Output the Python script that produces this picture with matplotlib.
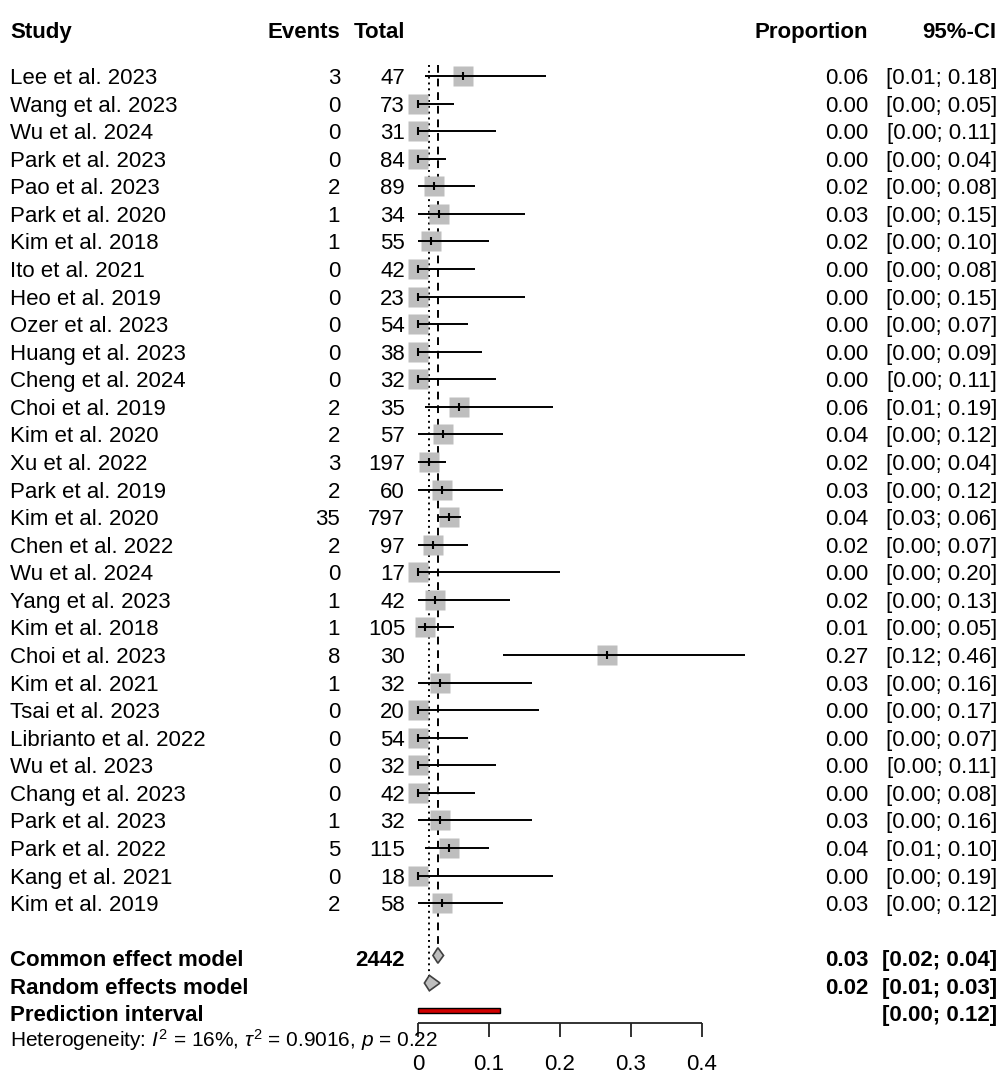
import matplotlib
matplotlib.use("Agg")
import matplotlib.pyplot as plt
from matplotlib.patches import Polygon, Rectangle

plt.rcParams['font.family'] = 'Liberation Sans'
plt.rcParams['mathtext.fontset'] = 'custom'
plt.rcParams['mathtext.rm'] = 'Liberation Sans'
plt.rcParams['mathtext.it'] = 'Liberation Sans:italic'

# data
studies = ["Lee et al. 2023", "Wang et al. 2023", "Wu et al. 2024", "Park et al. 2023",
           "Pao et al. 2023", "Park et al. 2020", "Kim et al. 2018", "Ito et al. 2021",
           "Heo et al. 2019", "Ozer et al. 2023", "Huang et al. 2023", "Cheng et al. 2024",
           "Choi et al. 2019", "Kim et al. 2020", "Xu et al. 2022", "Park et al. 2019",
           "Kim et al. 2020", "Chen et al. 2022", "Wu et al. 2024", "Yang et al. 2023",
           "Kim et al. 2018", "Choi et al. 2023", "Kim et al. 2021", "Tsai et al. 2023",
           "Librianto et al. 2022", "Wu et al. 2023", "Chang et al. 2023", "Park et al. 2023",
           "Park et al. 2022", "Kang et al. 2021", "Kim et al. 2019"]
events = [3, 0, 0, 0, 2, 1, 1, 0, 0, 0, 0, 0, 2, 2, 3, 2, 35, 2, 0, 1, 1, 8, 1, 0, 0, 0, 0, 1, 5, 0, 2]
totals = [47, 73, 31, 84, 89, 34, 55, 42, 23, 54, 38, 32, 35, 57, 197, 60, 797, 97, 17, 42,
          105, 30, 32, 20, 54, 32, 42, 32, 115, 18, 58]
lower = [0.01, 0.00, 0.00, 0.00, 0.00, 0.00, 0.00, 0.00, 0.00, 0.00, 0.00, 0.00, 0.01, 0.00,
         0.00, 0.00, 0.03, 0.00, 0.00, 0.00, 0.00, 0.12, 0.00, 0.00, 0.00, 0.00, 0.00, 0.00,
         0.01, 0.00, 0.00]
upper = [0.18, 0.05, 0.11, 0.04, 0.08, 0.15, 0.10, 0.08, 0.15, 0.07, 0.09, 0.11, 0.19, 0.12,
         0.04, 0.12, 0.06, 0.07, 0.20, 0.13, 0.05, 0.46, 0.16, 0.17, 0.07, 0.11, 0.08, 0.16,
         0.10, 0.19, 0.12]

common_est, common_lo, common_hi = 0.028, 0.021, 0.036
random_est, random_lo, random_hi = 0.016, 0.009, 0.031
pred_lo, pred_hi = 0.0, 0.115
common_txt = ["0.03", "[0.02; 0.04]"]
random_txt = ["0.02", "[0.01; 0.03]"]
pred_txt = "[0.00; 0.12]"
total_n = 2442
ticks = [0, 0.1, 0.2, 0.3, 0.4]

props = [e / n for e, n in zip(events, totals)]

# pixel helpers (figure is 1002x1074 px)
X0, XS = 418, 710.0
Y0, YS = 76, 27.57
def px(x):
    return (x - X0) / XS
def py(y):
    return (y - Y0) / YS

fig = plt.figure(figsize=(10.02, 10.74), dpi=100)
ax = fig.add_axes([0, 0, 1, 1])
ax.set_xlim(px(0), px(1002))
ax.set_ylim(py(1074), py(0))
ax.axis('off')

fs = 16
base = 0.29
rows = list(range(len(studies)))

# header
for txt, x, ha in [("Study", 10, 'left'), ("Events", 340, 'right'), ("Total", 405, 'right'),
                   ("Proportion", 868, 'right'), ("95%-CI", 996, 'right')]:
    ax.text(px(x), py(30) + base, txt, ha=ha, va='baseline', fontsize=fs, fontweight='bold')

# reference lines
ax.vlines(common_est, -0.4, 31.7, colors='black', linestyles=(0, (4, 3)), lw=1.4, zorder=1)
ax.vlines(random_est, -0.4, 32.65, colors='black', linestyles=(0, (1, 2)), lw=1.4, zorder=1)

# study rows
ax.plot(props, rows, 's', ms=14.5, color='#BEBEBE', mec='none', zorder=2)
ax.hlines(rows, lower, upper, colors='black', lw=1.4, zorder=3)
ax.plot(props, rows, '|', ms=6, mew=1.5, color='black', zorder=4)

for i, r in enumerate(rows):
    yb = r + base
    ax.text(px(10), yb, studies[i], ha='left', va='baseline', fontsize=fs)
    ax.text(px(340), yb, str(events[i]), ha='right', va='baseline', fontsize=fs)
    ax.text(px(405), yb, str(totals[i]), ha='right', va='baseline', fontsize=fs)
    ax.text(px(868), yb, "%.2f" % props[i], ha='right', va='baseline', fontsize=fs)
    ax.text(px(997), yb, "[%.2f; %.2f]" % (lower[i], upper[i]), ha='right', va='baseline', fontsize=fs)

# summary rows
rc, rr, rp = 32, 33, 34
h = 0.28
ax.add_patch(Polygon([(common_lo, rc - 0.1), (common_est, rc - 0.1 - h), (common_hi, rc - 0.1),
                      (common_est, rc - 0.1 + h)], closed=True, fc='#BEBEBE', ec='#404040',
                     lw=1.2, zorder=4))
ax.add_patch(Polygon([(random_lo, rr - 0.1), (random_est, rr - 0.1 - h), (random_hi, rr - 0.1),
                      (random_est, rr - 0.1 + h)], closed=True, fc='#BEBEBE', ec='#404040',
                     lw=1.2, zorder=4))
ax.add_patch(Rectangle((pred_lo, rp - 0.1 - 0.09), pred_hi - pred_lo, 0.18, fc='#D00000',
                       ec='black', lw=1.0, zorder=4))

for r, lab in [(rc, "Common effect model"), (rr, "Random effects model"), (rp, "Prediction interval")]:
    ax.text(px(10), r + base, lab, ha='left', va='baseline', fontsize=fs, fontweight='bold')
ax.text(px(405), rc + base, str(total_n), ha='right', va='baseline', fontsize=fs, fontweight='bold')
ax.text(px(868), rc + base, common_txt[0], ha='right', va='baseline', fontsize=fs, fontweight='bold')
ax.text(px(997), rc + base, common_txt[1], ha='right', va='baseline', fontsize=fs, fontweight='bold')
ax.text(px(868), rr + base, random_txt[0], ha='right', va='baseline', fontsize=fs, fontweight='bold')
ax.text(px(997), rr + base, random_txt[1], ha='right', va='baseline', fontsize=fs, fontweight='bold')
ax.text(px(997), rp + base, pred_txt, ha='right', va='baseline', fontsize=fs, fontweight='bold')

# x axis
ya = py(1023)
ax.hlines(ya, ticks[0], ticks[-1], colors='#222222', lw=1.3, zorder=3)
ax.vlines(ticks, ya, py(1037), colors='#222222', lw=1.3, zorder=3)
for t in ticks:
    ax.text(t, py(1070), "%g" % t, ha='center', va='baseline', fontsize=fs)

ax.text(px(10), py(1040) + 0.25,
        r"Heterogeneity: $I^2$ = 16%, $\tau^2$ = 0.9016, $p$ = 0.22",
        ha='left', va='baseline', fontsize=15)

fig.savefig("out.png", dpi=100)
